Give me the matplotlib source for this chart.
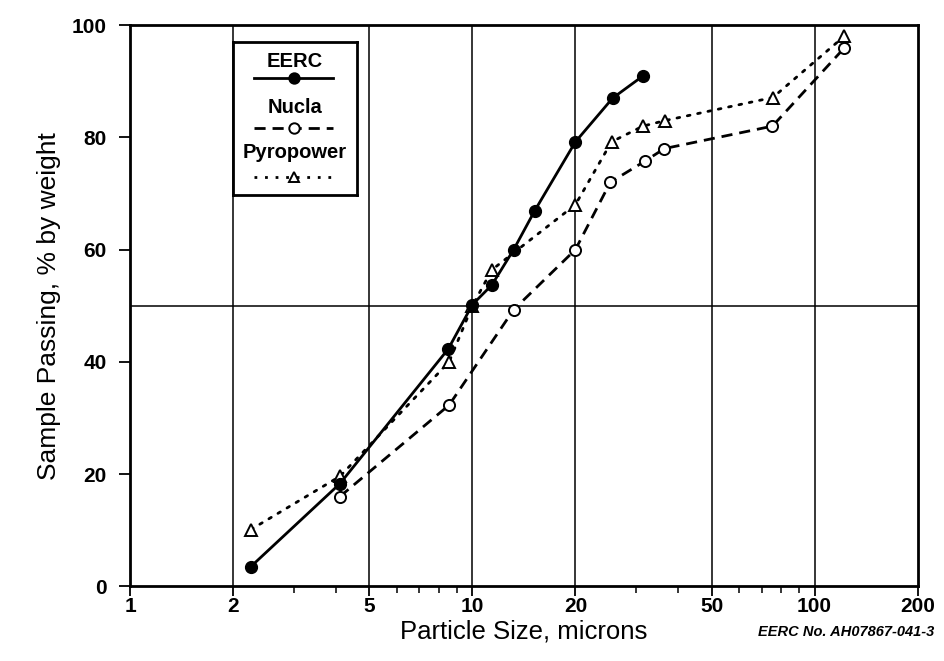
import matplotlib.pyplot as plt
import numpy as np
from matplotlib.ticker import FixedLocator, NullFormatter

plt.rcParams['font.family'] = ['Liberation Sans', 'DejaVu Sans']

# EERC
eerc_x = [2.25, 4.1, 8.5, 10.0, 11.4, 13.2, 15.2, 20.0, 25.7, 31.6]
eerc_y = [3.5, 18.3, 42.3, 50.2, 53.7, 60.0, 66.9, 79.2, 87.0, 91.0]
# Nucla
nucla_x = [4.1, 8.55, 13.2, 20.0, 25.3, 32.0, 36.4, 75.3, 122]
nucla_y = [16.0, 32.3, 49.3, 60.0, 72.0, 75.8, 78.0, 82.0, 95.9]
# Pyropower
pyro_x = [2.25, 4.1, 8.55, 10.0, 11.4, 20.0, 25.5, 31.5, 36.6, 75.5, 122]
pyro_y = [10.1, 19.6, 40.0, 50.0, 56.4, 68.0, 79.2, 82.0, 83.0, 87.1, 98.0]

xticks = [1, 2, 5, 10, 20, 50, 100, 200]
xgrid = [2, 5, 10, 20, 50, 100]
yticks = [0, 20, 40, 60, 80, 100]

fig = plt.figure(figsize=(9.44, 6.61), dpi=100)
ax = fig.add_axes([0.138, 0.113, 0.834, 0.849])

ax.set_xscale('log')
ax.set_xlim(1, 200)
ax.set_ylim(0, 100)

#Gitter
for g in xgrid:
    ax.axvline(g, color='k', lw=1.1, zorder=1)
ax.axhline(50, color='k', lw=1.1, zorder=1)

dots = (0, (1, 2.8))
dashes = (0, (4, 2.5))

ax.plot(pyro_x, pyro_y, color='k', lw=2, linestyle=dots, dash_capstyle='round',
        marker='^', markersize=9, markerfacecolor='white', markeredgecolor='k',
        markeredgewidth=1.4, zorder=3)
ax.plot(nucla_x, nucla_y, color='k', lw=2, linestyle=dashes,
        marker='o', markersize=8, markerfacecolor='white', markeredgecolor='k',
        markeredgewidth=1.4, zorder=4)
ax.plot(eerc_x, eerc_y, color='k', lw=2, linestyle='-',
        marker='o', markersize=8.5, markerfacecolor='k', markeredgecolor='k', zorder=5)

ax.xaxis.set_major_locator(FixedLocator(xticks))
ax.set_xticklabels([str(t) for t in xticks])
minor = [m * 10**e for e in range(0, 3) for m in range(2, 10) if m * 10**e < 200]
ax.xaxis.set_minor_locator(FixedLocator(minor))
ax.xaxis.set_minor_formatter(NullFormatter())
ax.set_yticks(yticks)

ax.tick_params(axis='x', which='major', direction='out', length=7, width=1.3,
               labelsize=15, pad=1)
ax.tick_params(axis='y', which='major', direction='out', length=8, width=1.3,
               labelsize=15, pad=9)
ax.tick_params(axis='x', which='minor', direction='out', length=5, width=1.1)
for lab in ax.get_xticklabels() + ax.get_yticklabels():
    lab.set_fontweight('bold')
for s in ax.spines.values():
    s.set_linewidth(2)

ax.set_xlabel('Particle Size, microns', fontsize=18.5, labelpad=2)
ax.set_ylabel('Sample Passing, % by weight', fontsize=19, labelpad=8)

# Legende (Kasten oben links)
lax = fig.add_axes([233 / 944, 1 - 195 / 661, 124 / 944, 153 / 661])
lax.set_xlim(0, 1)
lax.set_ylim(0, 1)
lax.set_xticks([])
lax.set_yticks([])
for s in lax.spines.values():
    s.set_linewidth(2)
leg_names = ['EERC', 'Nucla', 'Pyropower']
leg_styles = ['-', dashes, dots]
leg_markers = ['o', 'o', '^']
leg_faces = ['k', 'white', 'white']
text_y = [0.87, 0.575, 0.28]
line_y = [0.765, 0.44, 0.12]
for name, ls, mk, fc, yt, yl in zip(leg_names, leg_styles, leg_markers, leg_faces, text_y, line_y):
    lax.text(0.5, yt, name, ha='center', va='center', fontsize=14.5, fontweight='bold')
    lax.plot([0.17, 0.81], [yl, yl], color='k', lw=2, linestyle=ls)
    lax.plot([0.49], [yl], color='k', marker=mk, markersize=7.5,
             markerfacecolor=fc, markeredgecolor='k', markeredgewidth=1.4)

fig.text(0.99, 1 - 632 / 661, 'EERC No. AH07867-041-3', ha='right', va='center',
         fontsize=10.5, fontweight='bold', style='italic')

fig.savefig('out.png', dpi=100)
